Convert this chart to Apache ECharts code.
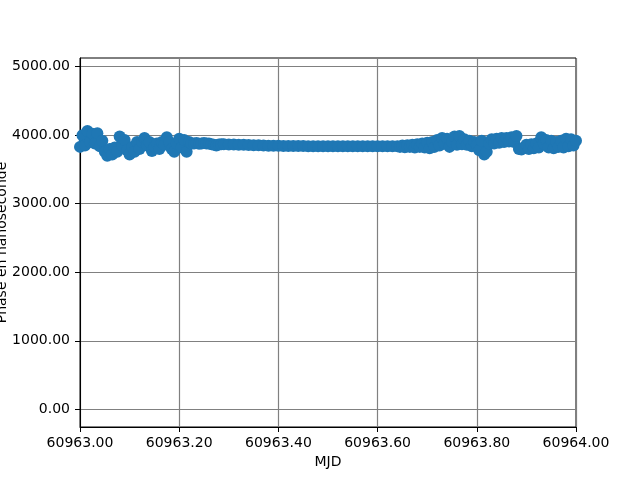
<!DOCTYPE html>
<html>
<head>
<meta charset="utf-8">
<script src="https://cdn.jsdelivr.net/npm/echarts@6/dist/echarts.min.js"></script>
<style>html,body{margin:0;padding:0;background:#fff}#c{width:640px;height:480px}</style>
</head>
<body>
<div id="c"></div>
<script>
// MJD offsets from 60963.00 (day)
const mjdBase = 60963.00;
const mjdOffset = [
  0.000,0.005,0.010,0.015,0.020,0.025,0.030,0.035,0.040,0.045,
  0.050,0.055,0.060,0.065,0.070,0.075,0.080,0.085,0.090,0.095,
  0.100,0.105,0.110,0.115,0.120,0.125,0.130,0.135,0.140,0.145,
  0.150,0.155,0.160,0.165,0.170,0.175,0.180,0.185,0.190,0.195,
  0.200,0.205,0.210,0.215,0.220,0.225,0.230,0.235,0.240,0.245,
  0.250,0.255,0.260,0.265,0.270,0.275,0.280,0.285,0.290,
  0.30,0.31,0.32,0.33,0.34,0.35,0.36,0.37,0.38,0.39,
  0.40,0.41,0.42,0.43,0.44,0.45,0.46,0.47,0.48,0.49,
  0.50,0.51,0.52,0.53,0.54,0.55,0.56,0.57,0.58,0.59,
  0.60,0.61,0.62,0.63,0.64,
  0.645,0.650,0.655,0.660,0.665,0.670,0.675,0.680,0.685,0.690,
  0.695,0.700,0.705,0.710,0.715,0.720,0.725,0.730,0.735,0.740,
  0.745,0.750,0.755,0.760,0.765,0.770,0.775,0.780,0.785,0.790,
  0.795,0.800,0.805,0.810,0.815,0.820,0.825,0.830,0.835,0.840,
  0.845,0.850,0.855,0.860,0.865,0.870,0.875,0.880,0.885,0.890,
  0.895,0.900,0.905,0.910,0.915,0.920,0.925,0.930,0.935,0.940,
  0.945,0.950,0.955,0.960,0.965,0.970,0.975,0.980,0.985,0.990,
  0.995,1.000
];
// Phase in nanoseconds
const phaseNs = [
  3830,4000,3850,4060,3900,4020,3880,4030,3840,3920,
  3760,3700,3800,3720,3820,3760,3980,3850,3930,3780,
  3720,3830,3760,3900,3800,3900,3960,3850,3900,3770,
  3830,3880,3800,3900,3860,3970,3900,3800,3760,3880,
  3950,3820,3930,3760,3900,3880,3880,3885,3875,3880,
  3885,3878,3880,3870,3860,3850,3865,3870,3868,
  3866,3865,3862,3860,3858,3855,3852,3850,3848,3846,
  3845,3844,3843,3842,3842,3841,3840,3840,3840,3839,
  3839,3839,3838,3838,3838,3838,3838,3838,3838,3838,
  3839,3839,3840,3840,3840,
  3830,3850,3825,3855,3830,3860,3820,3870,3830,3880,
  3820,3890,3810,3900,3830,3930,3850,3960,3880,3950,
  3830,3900,3980,3860,3990,3870,3940,3860,3920,3840,
  3900,3860,3780,3920,3720,3760,3880,3940,3880,3950,
  3890,3960,3900,3960,3910,3970,3900,3990,3800,3790,
  3820,3860,3800,3870,3810,3880,3820,3970,3880,3930,
  3820,3920,3810,3900,3830,3920,3820,3950,3840,3940,
  3850,3920
];
const xTickInterval = 0.2;
const yTickValues = [0, 1000, 2000, 3000, 4000, 5000];
const yMin = -258, yMax = 5127;

const data = mjdOffset.map((t, i) => [mjdBase + t, phaseNs[i]]);

const chart = echarts.init(document.getElementById('c'), null, {renderer: 'canvas'});
const font = 'DejaVu Sans';
chart.setOption({
  animation: false,
  textStyle: {fontFamily: font},
  grid: {left: 80, right: 64, top: 58, bottom: 53, containLabel: false, outerBoundsMode: 'none',
         show: true, borderColor: '#000', borderWidth: 1, backgroundColor: 'transparent'},
  xAxis: {
    type: 'value', min: 60963.0, max: 60964.0, interval: xTickInterval,
    name: 'MJD', nameLocation: 'middle', nameGap: 28, nameMoveOverlap: false,
    nameTextStyle: {fontFamily: font, fontSize: 14, color: '#000'},
    axisLine: {show: true, onZero: false, lineStyle: {color: '#000', width: 1}},
    axisTick: {show: true, inside: false, length: 5, lineStyle: {color: '#000'}},
    axisLabel: {margin: 9, fontFamily: font, fontSize: 14, color: '#000', formatter: v => v.toFixed(2), showMinLabel: true, showMaxLabel: true},
    splitLine: {show: true, lineStyle: {color: '#808080', width: 1.2}}
  },
  yAxis: {
    type: 'value', min: yMin, max: yMax,
    name: 'Phase en nanoseconde', nameLocation: 'middle', nameGap: 71, nameMoveOverlap: false,
    nameTextStyle: {fontFamily: font, fontSize: 14, color: '#000'},
    axisLine: {show: true, onZero: false, lineStyle: {color: '#000', width: 1}},
    axisTick: {show: true, length: 5, lineStyle: {color: '#000'}, customValues: yTickValues},
    axisLabel: {margin: 10, fontFamily: font, fontSize: 14, color: '#000', formatter: v => v.toFixed(2), customValues: yTickValues},
    splitLine: {show: false}
  },
  series: [{
    type: 'line',
    data: data,
    symbol: 'circle', symbolSize: 12, showSymbol: true, showAllSymbol: true,
    itemStyle: {color: '#1f77b4'},
    lineStyle: {color: '#1f77b4', width: 5},
    clip: true,
    markLine: {
      silent: true, symbol: ['none', 'none'], label: {show: false},
      lineStyle: {color: '#808080', width: 1.2, type: 'solid'},
      z: 0,
      data: yTickValues.map(v => ({yAxis: v}))
    }
  }]
});
</script>
</body>
</html>
